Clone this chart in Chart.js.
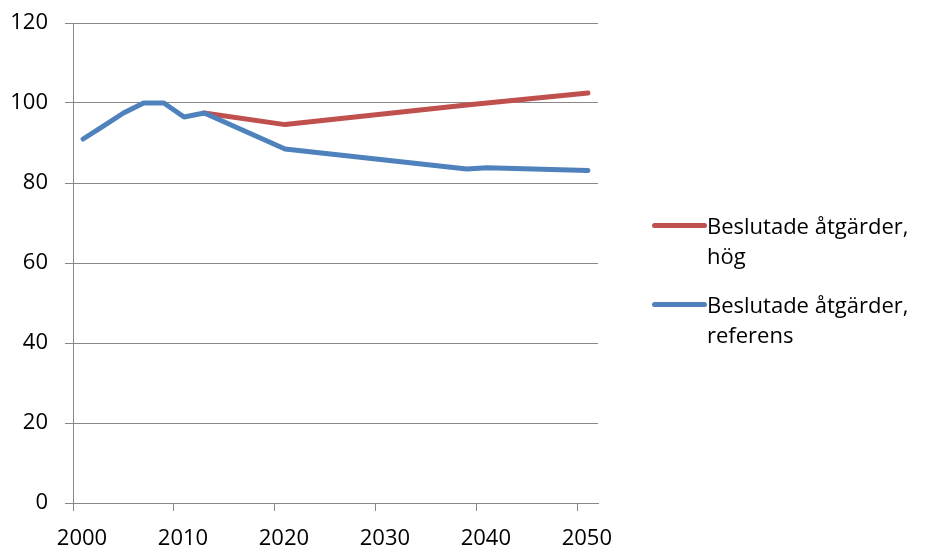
<!DOCTYPE html>
<html>
<head>
<meta charset="utf-8">
<script src="https://cdn.jsdelivr.net/npm/chart.js@4/dist/chart.umd.min.js"></script>
<style>
  body { margin: 0; background: #fff; }
  #wrap { position: relative; width: 925px; height: 548px; }
  #legend { position: absolute; left: 652px; top: 210px; font-family: "Open Sans", sans-serif; font-size: 22px; color: #000; }
  .item { display: flex; align-items: flex-start; margin-bottom: 19px; }
  .swatch { width: 55px; height: 5px; border-radius: 3px; margin-top: 12.5px; flex: none; }
  .label { line-height: 30px; white-space: pre-line; }
</style>
</head>
<body>
<div id="wrap">
  <canvas id="chart" width="925" height="548"></canvas>
  <div id="legend"></div>
</div>
<script>
// values
var highYears = [2013, 2021, 2039, 2051]
var highValues = [97.5, 94.6, 99.5, 102.5]

var refYears = [2001, 2003, 2005, 2007, 2009, 2011, 2013, 2021, 2039, 2041, 2051]
var refValues = [91, 94.2, 97.5, 100, 100, 96.5, 97.5, 88.5, 83.5, 83.8, 83.1]

var xTicks = [2000, 2010, 2020, 2030, 2040, 2050]
var yTicks = [0, 20, 40, 60, 80, 100, 120]

var seriesLabels = ['Beslutade åtgärder, hög', 'Beslutade åtgärder, referens']
var seriesColors = ['#C0504D', '#4F81BD']

var gray = '#888888'

function toPoints(xs, ys) {
    return xs.map(function(x, i) {
        return { x: x, y: ys[i] }
    })
}

function lineDataset(label, color, points, order) {
    return {
        label: label,
        data: points,
        borderColor: color,
        backgroundColor: color,
        borderWidth: 5,
        borderCapStyle: 'round',
        borderJoinStyle: 'round',
        pointRadius: 0,
        tension: 0,
        order: order
    }
}

var tickFont = { family: 'Open Sans', size: 22 }

var chart = new Chart(document.getElementById('chart'), {
    type: 'line',
    data: {
        datasets: [
            lineDataset(seriesLabels[0], seriesColors[0], toPoints(highYears, highValues), 1),
            lineDataset(seriesLabels[1], seriesColors[1], toPoints(refYears, refValues), 0)
        ]
    },
    options: {
        responsive: false,
        animation: false,
        layout: { padding: { top: 23, right: 327, bottom: 0, left: 0 } },
        plugins: { legend: { display: false }, tooltip: { enabled: false } },
        scales: {
            x: {
                type: 'linear',
                min: 2000,
                max: 2052,
                afterBuildTicks: function(axis) {
                    axis.ticks = xTicks.map(function(v) { return { value: v } })
                },
                afterFit: function(axis) {
                    axis.height = 45
                    axis.paddingLeft = 0
                    axis.paddingRight = 0
                },
                ticks: {
                    font: tickFont,
                    color: '#000',
                    maxRotation: 0,
                    autoSkip: false,
                    labelOffset: 9,
                    padding: 15,
                    callback: function(v) { return String(v) }
                },
                grid: { drawOnChartArea: false, drawTicks: true, tickLength: 8, color: gray, lineWidth: 1 },
                border: { display: true, color: gray, width: 1 }
            },
            y: {
                min: 0,
                max: 120,
                afterBuildTicks: function(axis) {
                    axis.ticks = yTicks.map(function(v) { return { value: v } })
                },
                afterFit: function(axis) {
                    axis.width = 73
                    axis.paddingTop = 0
                    axis.paddingBottom = 0
                },
                ticks: { font: tickFont, color: '#000', padding: 17 },
                grid: { color: gray, lineWidth: 1, tickLength: 8 },
                border: { display: true, color: gray, width: 1 }
            }
        }
    }
})

// legend on the right, one wrapped entry per series
var legend = document.getElementById('legend')
chart.data.datasets.forEach(function(ds) {
    var item = document.createElement('div')
    item.className = 'item'
    var sw = document.createElement('div')
    sw.className = 'swatch'
    sw.style.background = ds.borderColor
    var txt = document.createElement('div')
    txt.className = 'label'
    txt.textContent = ds.label.replace(', ', ',\n')
    item.appendChild(sw)
    item.appendChild(txt)
    legend.appendChild(item)
})
</script>
</body>
</html>
